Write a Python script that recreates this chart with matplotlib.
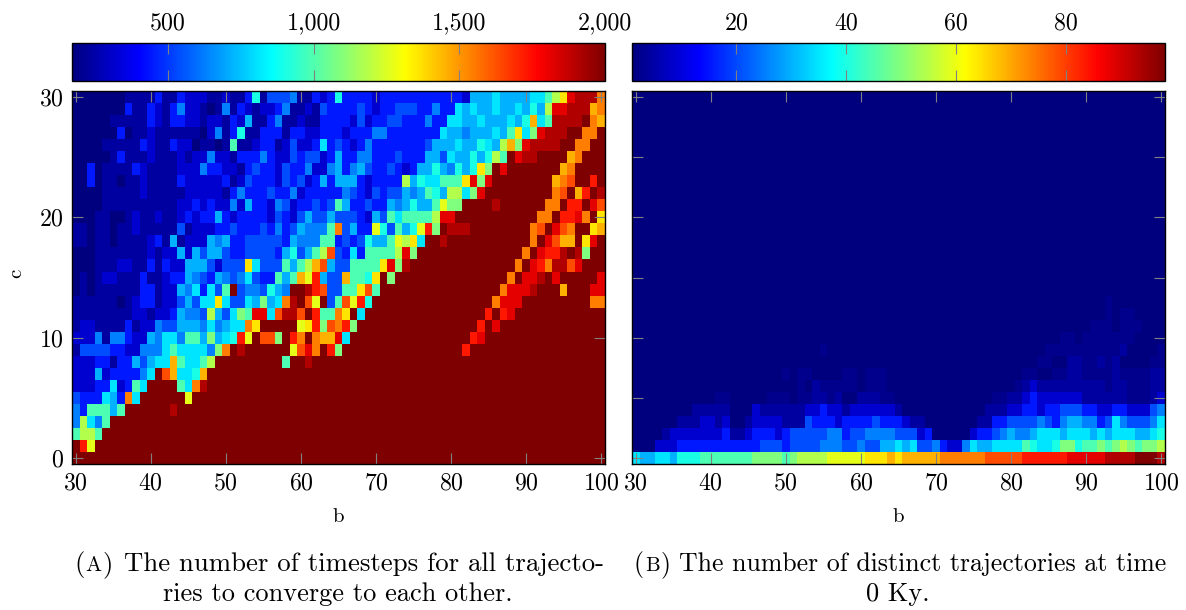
import numpy as np
import matplotlib
matplotlib.use("Agg")
import matplotlib.pyplot as plt
from matplotlib.colors import LinearSegmentedColormap

plt.rcParams['font.family'] = ['cmr10', 'DejaVu Serif']
plt.rcParams['axes.formatter.use_mathtext'] = True
plt.rcParams['axes.unicode_minus'] = False

b_values = np.arange(30, 101)
c_values = np.arange(0, 31)

# one character per cell, levels 0..k on the colour scale, '.' is a faint level
# rows run from c=30 down to c=0, short rows are filled with the last level
steps_rows = [
    "0000000111 1311322211 2113814445 1132383333 2333333333 3326667666 6779bdijjj f",
    "0000000311 3213522101 5132122351 1214333343 2334443353 3767667667 686biijjje f",
    "0000011111 3213322122 1326113511 2113333242 3344333533 7766766676 8e79jjjjkf e",
    "0000003011 2111111025 1381133313 3223332333 5533333337 665666769d 7aijjjkkff k",
    "0000111113 2113220110 1911233124 2237343235 3333333466 6766876bea ijjjjkkffk k",
    "0000013111 2111212252 2133353224 3442363355 3334333664 766868b9ki jjkkkkefkk k",
    "0030111132 1111222533 2213433243 3522563564 3343236686 5868dakikk kkkkkefkkk k",
    "0030110112 1111322222 3124333243 4236366632 3333b68779 99diaikkkk kkkkefgkkh k",
    "0000111112 1111122222 1353334335 2333335432 4344656986 bb7aikkkkk kkkkfgkehk j",
    "0000111111 1111223232 2526332542 3343496334 336568669c aakkkkjkkk kkkffkhhki g",
    "0001100121 1211232336 3233332432 4644644432 64979999bi ikkkkkkkkk kkffkhhifk d",
    "1101101121 1111412223 3433343534 65559f4633 c84968chak jjjkkkkkkk kfgkigfkkd e",
    "1101101111 2316122265 6334444436 5559934348 669cbd7kkj kkkkkkkkkk kfkigeekdi k",
    "0001111111 2122626466 4334444368 469bg43739 999biakkkk kkkkkkkkkk fkihhjkjak k",
    "0001112211 3132266642 444d744496 9beg644999 9diajkkkkk kkkkkkkkkf kihfjjgikk k",
    "0101221113 1123365436 5457433969 ech644e998 dkakkkkkkk kkkkkkkkfk iijkikkkkk i",
    "0101111113 3122657374 9k4554865k kjhg4499dg 9kkkkkkkkk kkkkkkkfii ijkkkekkki i",
    "1111110123 312246477d 74476a67fj kgck49gch8 kkkkkkkkkk kkkkkkfiii kkkkkkkkkf f",
    "1111111122 12236554b6 47a9ii7gjj gkh99fdk7k kkkkkkkkkk kkkkkhkhik kkkkkkkkkk k",
    "1221111312 2544666575 677fdkkkkk cdhagfhakk kkkkkkkkkk kkkkhkikkk kkkkkkkkkk k",
    "2225155322 65775996a6 78hckggakh fkfeei7kkk kkkkkkkkkk kkkhikkkkk kkkkkkkkkk k",
    "1444433225 557977775a fkjkkkkkkc gifkhakkkk kkkkkkkkkk kkhkkkkkkk kkkkkkkkkk k",
    "2223313364 677e9779bk kkkkkkkk9k kjkkkkkkkk",
    "2226233335 7kge778ekk",
    "2223372397 kkkk97fjkk",
    "4333763f7k kkkkkckkkk",
    "5399969kkk kkkjkkkkkk",
    "5b759kkkkk",
    "9bb9kkkkkk",
    "khckkkkkkk",
    "kkkkkkkkkk",
]

# rows run from c=0 upwards here, rows not listed are all at the lowest level
distinct_rows = [
    "7667768889 999999aaaa 9abbbbcccc cdddedeeee effffffggg gghhhhhhii iiijjjjkkk j",
    "0002223333 3333333444 3444455544 5446676744 5322576677 7798778aa8 99a9aba9aa b",
    "0000122222 2231123332 3444445534 4555544423 0000023345 6556777677 7676777667 8",
    "0000001112 2120012222 1114333233 3343332110 0000001133 4444543566 5534754445 7",
    "0000000011 1110002111 1112232212 2222210000 0000000111 2233233444 3322332224 5",
    "0000000000 0..00000.. .0..11.100 111..00000 00000000.. 1123222222 111111...1 2",
    "0000000000 0000000000 00.01..... 0...000000 0000000000 0.12111111 111.11...1 1",
    "0000000000 0000000000 .0..0000.. 0...000000 0000000000 00..00..11 ....1....1 1",
    "0000000000 0000000000 0000000000 0000000000 0000000000 0000..0011 ..1.10000. .",
    "0000000000 0000000000 00000.0000 0000000000 0000000000 00000..... .....10000 .",
    "0000000000 0000000000 0000000000 0000000000 0000000000 0000000..0 .......000 0",
    "0000000000 0000000000 0000000000 0000000000 0000000000 0000000000 0...0...00 0",
    "0000000000 0000000000 0000000000 0000000000 0000000000 0000000000 000.0..000 0",
    "0000000000 0000000000 0000000000 0000000000 0000000000 0000000000 000.000000 0",
]

steps_range = (170, 2000)
distinct_range = (1, 98)
steps_ticks = [500, 1000, 1500, 2000]
distinct_ticks = [20, 40, 60, 80]
levels = "0123456789abcdefghijk"
dark_levels = {".": 0.3, "1": 0.7, "2": 1.6}


def decode(row, fill, low, high):
    row = row.replace(" ", "").ljust(len(b_values), fill)
    out = []
    for ch in row:
        lev = dark_levels[ch] if ch in dark_levels else levels.index(ch)
        out.append(low + lev / 20 * (high - low))
    return out


steps = np.array([decode(r, "k", *steps_range) for r in steps_rows[::-1]])
distinct = np.full((len(c_values), len(b_values)), float(distinct_range[0]))
for i, r in enumerate(distinct_rows):
    distinct[i] = decode(r, "0", *distinct_range)

# pgfplots jet
cmap = LinearSegmentedColormap.from_list("pgfjet", [
    (0, (0, 0, 0.5)), (1 / 8, (0, 0, 1)), (3 / 8, (0, 1, 1)),
    (5 / 8, (1, 1, 0)), (7 / 8, (1, 0, 0)), (1, (0.5, 0, 0))], N=512)

W, H = 1186, 610
TICK = "#808080"
fig = plt.figure(figsize=(W / 100, H / 100), dpi=100)


def box(x0, x1, y0, y1):
    return [x0 / W, 1 - y1 / H, (x1 - x0) / W, (y1 - y0) / H]


def heat_panel(x0, x1, data, vrange, yticks, ylabels, cbar_ticks):
    ax = fig.add_axes(box(x0, x1, 91, 464))
    im = ax.imshow(data, origin="lower", aspect="auto", cmap=cmap,
                   vmin=vrange[0], vmax=vrange[1], interpolation="nearest",
                   extent=(b_values[0] - .5, b_values[-1] + .5,
                           c_values[0] - .5, c_values[-1] + .5))
    ax.set_xticks(np.arange(30, 101, 10))
    ax.set_yticks(yticks)
    if not ylabels:
        ax.set_yticklabels([])
    ax.tick_params(direction="in", length=8, width=0.8, color=TICK,
                   top=True, right=True, labelsize=17.2, pad=6)
    ax.set_xlabel("b", fontsize=15, labelpad=10)
    for s in ax.spines.values():
        s.set_linewidth(1.0)

    cax = fig.add_axes(box(x0, x1, 43, 81))
    cb = fig.colorbar(im, cax=cax, orientation="horizontal", ticks=cbar_ticks)
    cax.xaxis.set_ticks_position("top")
    cax.xaxis.set_label_position("top")
    cax.set_xticklabels([f"{t:,}" for t in cbar_ticks])
    cax.tick_params(direction="in", length=8, width=0.8, color=TICK,
                    bottom=True, top=True, labelsize=17.2, pad=6)
    cb.outline.set_linewidth(1.0)
    return ax


ax1 = heat_panel(72, 605, steps, steps_range, [0, 10, 20, 30], True, steps_ticks)
ax2 = heat_panel(632, 1165, distinct, distinct_range, np.arange(0, 31, 5), False, distinct_ticks)
ax1.set_ylabel("c", fontsize=15, labelpad=10)
ax1.yaxis.label.set_y(0.51)


def caption(x, x_text, y, letter, text, size):
    # "(A)" in small capitals, followed by the caption line
    r = fig.canvas.get_renderer()
    for piece, sz in [("(", size), (letter, size * 0.8), (")", size)]:
        t = fig.text(x / W, 1 - y / H, piece, fontsize=sz, va="baseline", ha="left")
        x = t.get_window_extent(r).x1 + 1
    fig.text(x_text / W, 1 - y / H, text, fontsize=size, va="baseline", ha="left")


caption(74, 124, 571, "A", "The number of timesteps for all trajecto-", 19.3)
fig.text(338 / W, 1 - 601 / H, "ries to converge to each other.", fontsize=19, ha="center", va="baseline")
caption(634, 679, 571, "B", "The number of distinct trajectories at time", 18.6)
fig.text(898 / W, 1 - 601 / H, "0 Ky.", fontsize=19, ha="center", va="baseline")

fig.savefig("out.png", dpi=100)
